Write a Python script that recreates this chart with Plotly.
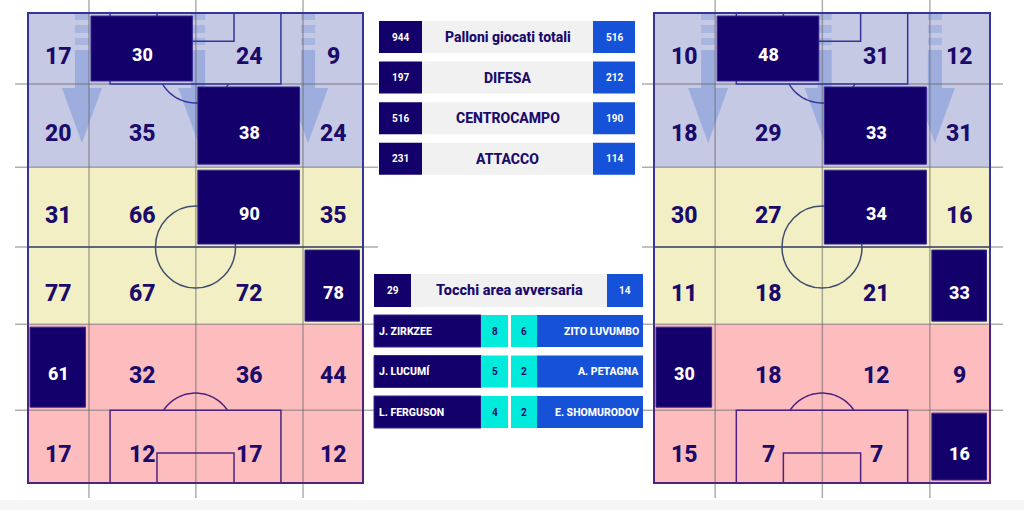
import numpy as np
import plotly.graph_objects as go

# ---------------- data ----------------
left_zone_values = [
    [17, 30, 24, 9],
    [20, 35, 38, 24],
    [31, 66, 90, 35],
    [77, 67, 72, 78],
    [61, 32, 36, 44],
    [17, 12, 17, 12],
]
right_zone_values = [
    [10, 48, 31, 12],
    [18, 29, 33, 31],
    [30, 27, 34, 16],
    [11, 18, 21, 33],
    [30, 18, 12, 9],
    [15, 7, 7, 16],
]
summary_labels = ["Palloni giocati totali", "DIFESA", "CENTROCAMPO", "ATTACCO"]
summary_home = [944, 197, 516, 231]
summary_away = [516, 212, 190, 114]
touch_label = "Tocchi area avversaria"
touch_home = 29
touch_away = 14
home_players = ["J. ZIRKZEE", "J. LUCUMÍ", "L. FERGUSON"]
home_player_touches = [8, 5, 4]
away_players = ["ZITO LUVUMBO", "A. PETAGNA", "E. SHOMURODOV"]
away_player_touches = [6, 2, 2]

# zone edges in percent of pitch width / length (top -> bottom)
col_edges = [0, 18.2, 50.1, 82.1, 100]
row_edges = [0, 15.1, 32.8, 49.8, 66.2, 84.5, 100]
arrow_cols = [16.1, 50.8, 83.6]

# ---------------- style ----------------
W, H = 1024, 510
FONT = "Roboto"
LAV, YEL, PINK = "#c6c9e4", "#f3efc4", "#fdbdbf"
DARK = "#13006b"
TXT = "#1a0a6a"
BLUE = "#1652d8"
CYAN = "#00ebdc"
GRAYBOX = "#f1f1f2"
row_fill = [LAV, LAV, YEL, YEL, PINK, PINK]
LINE_TOP = "#34349a"
LINE_BOT = "#4d2380"
LINE_MID = "#3e4d6e"
GRID = "rgba(105,105,105,0.55)"
ARROW = "rgba(100,135,215,0.42)"
ARROW_L = "rgba(100,135,215,0.30)"

pitches = [
    dict(xa="x", ya="y", px0=28, px1=363, py0=13, py1=483, dom=(0, 380),
         values=left_zone_values, gx=(15, 378)),
    dict(xa="x3", ya="y3", px0=654, px1=990, py0=13, py1=483, dom=(640, 1024),
         values=right_zone_values, gx=(642, 1003)),
]

shapes = []
annotations = []
layout_axes = {}


def rect(xa, ya, x0, x1, y0, y1, fill, lc=None, lw=0):
    shapes.append(dict(type="rect", xref=xa, yref=ya, x0=x0, x1=x1, y0=y0, y1=y1,
                       fillcolor=fill, line=dict(color=lc or fill, width=lw), layer="above"))


def seg(xa, ya, x0, y0, x1, y1, color, w):
    shapes.append(dict(type="line", xref=xa, yref=ya, x0=x0, x1=x1, y0=y0, y1=y1,
                       line=dict(color=color, width=w), layer="above"))


def path(xa, ya, pts, color=None, fill=None, w=1.5, close=False):
    d = "M " + " L ".join(f"{x:.3f},{y:.3f}" for x, y in pts) + (" Z" if close else "")
    shapes.append(dict(type="path", xref=xa, yref=ya, path=d,
                       fillcolor=fill if fill else "rgba(0,0,0,0)",
                       line=dict(color=color if color else "rgba(0,0,0,0)", width=w if color else 0),
                       layer="above"))


def text(xa, ya, x, y, s, size, color, xanchor="center", yshift=0, weight=700):
    annotations.append(dict(xref=xa, yref=ya, x=x, y=y, text=s, showarrow=False,
                            xanchor=xanchor, yanchor="middle", yshift=yshift,
                            font=dict(family=FONT, size=size, color=color, weight=weight)))


for i, p in enumerate(pitches):
    xa, ya = p["xa"], p["ya"]
    sx = (p["px1"] - p["px0"]) / 100.0
    sy = (p["py1"] - p["py0"]) / 100.0
    axn = "" if i == 0 else "3"
    layout_axes["xaxis" + axn] = dict(domain=[p["dom"][0] / W, p["dom"][1] / W],
                                      range=[(p["dom"][0] - p["px0"]) / sx, (p["dom"][1] - p["px0"]) / sx],
                                      visible=False, fixedrange=True, anchor="y" + axn)
    layout_axes["yaxis" + axn] = dict(domain=[0, 1], range=[(H - p["py0"]) / sy, (0 - p["py0"]) / sy],
                                      visible=False, fixedrange=True, anchor="x" + axn)

    # zone backgrounds
    for r in range(6):
        rect(xa, ya, 0, 100, row_edges[r], row_edges[r + 1], row_fill[r])

    # attacking-direction arrows
    hw, HW = 7 / sx, 20 / sx
    for cx in arrow_cols:
        for (a, b) in [(0, 7), (12, 20), (25, 32)]:
            rect(xa, ya, cx - hw, cx + hw, a / sy, b / sy, ARROW_L)
        ys0, yh0, ytip = 37 / sy, 75 / sy, 130 / sy
        path(xa, ya, [(cx - hw, ys0), (cx + hw, ys0), (cx + hw, yh0), (cx + HW, yh0), (cx, ytip),
                      (cx - HW, yh0), (cx - hw, yh0)], fill=ARROW, close=True)

    # grid lines overshooting the pitch
    for cxe in col_edges[1:-1]:
        seg(xa, ya, cxe, (0 - p["py0"]) / sy, cxe, (498 - p["py0"]) / sy, GRID, 1.5)
    for rye in row_edges[1:-1]:
        seg(xa, ya, (p["gx"][0] - p["px0"]) / sx, rye, (p["gx"][1] - p["px0"]) / sx, rye, GRID, 1.5)

    # pitch markings
    seg(xa, ya, 0, row_edges[3], 100, row_edges[3], LINE_MID, 1.5)
    shapes.append(dict(type="circle", xref=xa, yref=ya, x0=50 - 40 / sx, x1=50 + 40 / sx,
                       y0=row_edges[3] - 41 / sy, y1=row_edges[3] + 41 / sy,
                       line=dict(color=LINE_MID, width=1.5), fillcolor="rgba(0,0,0,0)", layer="above"))
    pa_x0, pa_x1 = 24.5, 75.5
    ga_x0, ga_x1 = 38.5, 61.5
    # top
    path(xa, ya, [(pa_x0, 0), (pa_x0, row_edges[1]), (pa_x1, row_edges[1]), (pa_x1, 0)], LINE_TOP)
    path(xa, ya, [(ga_x0, 0), (ga_x0, 6.0), (ga_x1, 6.0), (ga_x1, 0)], LINE_TOP)
    rxa, rya, cya = 38.2 / sx, 38.2 / sy, 11.0
    t = np.linspace(np.arcsin((row_edges[1] - cya) / rya), np.pi - np.arcsin((row_edges[1] - cya) / rya), 40)
    path(xa, ya, list(zip(50 + rxa * np.cos(t), cya + rya * np.sin(t))), LINE_TOP)
    # bottom
    path(xa, ya, [(pa_x0, 100), (pa_x0, row_edges[5]), (pa_x1, row_edges[5]), (pa_x1, 100)], LINE_BOT)
    path(xa, ya, [(ga_x0, 100), (ga_x0, 93.6), (ga_x1, 93.6), (ga_x1, 100)], LINE_BOT)
    cyb = 100 - cya
    t = np.linspace(np.arcsin((cyb - row_edges[5]) / rya), np.pi - np.arcsin((cyb - row_edges[5]) / rya), 40)
    path(xa, ya, list(zip(50 + rxa * np.cos(t), cyb - rya * np.sin(t))), LINE_BOT)
    # border
    path(xa, ya, [(0, row_edges[4]), (0, 0), (100, 0), (100, row_edges[4])], LINE_TOP, w=2)
    path(xa, ya, [(0, row_edges[4]), (0, 100), (100, 100), (100, row_edges[4])], LINE_BOT, w=2)

    # zone values
    for r, row in enumerate(p["values"]):
        mx = max(row)
        for c, v in enumerate(row):
            xc = (col_edges[c] + col_edges[c + 1]) / 2
            yc = (row_edges[r] + row_edges[r + 1]) / 2
            hot = (v == mx and row.count(mx) == 1)
            if hot:
                rect(xa, ya, col_edges[c] + 2 / sx, col_edges[c + 1] - 3.5 / sx,
                     row_edges[r] + 3 / sy, row_edges[r + 1] - 3 / sy, DARK, "#3a2590", 1)
                text(xa, ya, xc, yc, str(v), 18, "white", yshift=-6.5, weight=800)
            else:
                text(xa, ya, xc, yc, str(v), 23, TXT, yshift=-8, weight=800)

# ---------------- centre panel (pixel-unit axis) ----------------
layout_axes["xaxis2"] = dict(domain=[370 / W, 650 / W], range=[370, 650], visible=False,
                             fixedrange=True, anchor="y2")
layout_axes["yaxis2"] = dict(domain=[0, 1], range=[H, 0], visible=False, fixedrange=True, anchor="x2")
xa, ya = "x2", "y2"
top0, step, rh = 21, 40.6, 32
for i, (lab, hv, av) in enumerate(zip(summary_labels, summary_home, summary_away)):
    y0 = top0 + i * step
    y1 = y0 + rh
    rect(xa, ya, 422, 593, y0, y1, GRAYBOX)
    rect(xa, ya, 379, 422, y0, y1, DARK)
    rect(xa, ya, 593, 635, y0, y1, BLUE)
    ym = (y0 + y1) / 2
    text(xa, ya, 400.5, ym, str(hv), 10, "white")
    text(xa, ya, 507.5, ym, lab, 14, TXT, weight=800)
    text(xa, ya, 614, ym, str(av), 10, "white")

y0, y1 = 274, 307
rect(xa, ya, 411, 607, y0, y1, GRAYBOX)
rect(xa, ya, 374, 411, y0, y1, DARK)
rect(xa, ya, 607, 643, y0, y1, BLUE)
ym = (y0 + y1) / 2
text(xa, ya, 392.5, ym, str(touch_home), 10, "white")
text(xa, ya, 509, ym, touch_label, 14.5, TXT, weight=800)
text(xa, ya, 625, ym, str(touch_away), 10, "white")

ptop0, pstep = 315, 40.5
for i in range(len(home_players)):
    y0 = ptop0 + i * pstep
    y1 = y0 + rh
    ym = (y0 + y1) / 2
    rect(xa, ya, 374, 481, y0, y1, DARK, "#3a2590", 1)
    rect(xa, ya, 481, 508, y0, y1, CYAN)
    rect(xa, ya, 511, 537, y0, y1, CYAN)
    rect(xa, ya, 537, 643, y0, y1, BLUE)
    text(xa, ya, 377, ym, home_players[i], 10.5, "white", xanchor="left", weight=800)
    text(xa, ya, 494.5, ym, str(home_player_touches[i]), 10, TXT)
    text(xa, ya, 524, ym, str(away_player_touches[i]), 10, TXT)
    text(xa, ya, 641, ym, away_players[i], 10.5, "white", xanchor="right", weight=800)

# bottom page strip
shapes.append(dict(type="rect", xref="paper", yref="paper", x0=0, x1=1, y0=0, y1=1 - 500 / H,
                   fillcolor="#f6f6f6", line=dict(width=0), layer="below"))

traces = [go.Scatter(x=[0], y=[0], xaxis=a, yaxis=b, mode="markers", marker=dict(opacity=0),
                     hoverinfo="skip", showlegend=False)
          for a, b in [("x", "y"), ("x2", "y2"), ("x3", "y3")]]

fig = go.Figure(data=traces)
fig.update_layout(width=W, height=H, margin=dict(l=0, r=0, t=0, b=0),
                  paper_bgcolor="white", plot_bgcolor="rgba(0,0,0,0)",
                  shapes=shapes, annotations=annotations, showlegend=False, **layout_axes)
fig.write_html("out.html", config=dict(displayModeBar=False, staticPlot=True))
